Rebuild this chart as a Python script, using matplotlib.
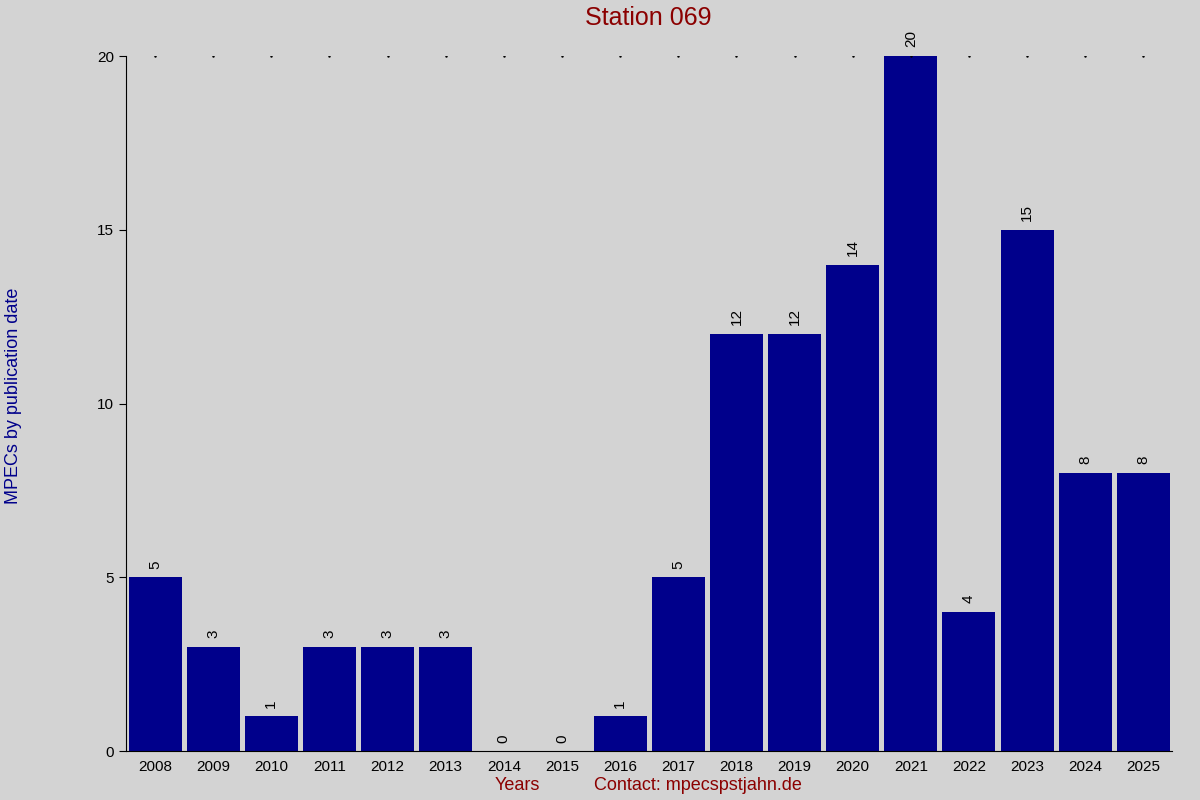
import matplotlib
matplotlib.use("Agg")
import matplotlib.pyplot as plt

years = [str(y) for y in range(2008, 2026)]
values = [5, 3, 1, 3, 3, 3, 0, 0, 1, 5, 12, 12, 14, 20, 4, 15, 8, 8]

plt.rcParams['font.family'] = ['Liberation Sans', 'DejaVu Sans']
fig = plt.figure(figsize=(12, 8), dpi=100, facecolor='#d3d3d3')
ax = fig.add_axes([0.105, 0.061, 0.872, 0.869], facecolor='#d3d3d3')
x = list(range(len(years)))
ax.bar(x, values, width=0.91, color='#00008b')
for xi, v in zip(x, values):
    ax.text(xi, v + 0.25, str(v), rotation=90, ha='center', va='bottom', fontsize=11, color='black')
ax.plot(x, [20] * len(x), linestyle='none', marker='.', markersize=1.5, color='black')
ax.set_xlim(-0.5, len(years) - 0.5)
ax.set_ylim(0, 20)
ax.set_xticks(x)
ax.set_xticklabels(years, fontsize=11)
ax.set_yticks([0, 5, 10, 15, 20])
ax.tick_params(axis='y', labelsize=11, direction='out', length=5)
ax.tick_params(axis='x', length=0, pad=6)
for s in ['top', 'right']:
    ax.spines[s].set_visible(False)
fig.text(0.54, 0.977, 'Station 069', ha='center', va='center', fontsize=18, color='#8b0000')
fig.text(0.011, 0.505, 'MPECs by publication date', rotation=90, ha='center', va='center', fontsize=13, color='#00008b')
fig.text(0.431, 0.018, 'Years', ha='center', va='center', fontsize=13, color='#8b0000')
fig.text(0.582, 0.018, 'Contact: mpecspstjahn.de', ha='center', va='center', fontsize=13, color='#8b0000')
fig.savefig('out.png', dpi=100, facecolor=fig.get_facecolor())
